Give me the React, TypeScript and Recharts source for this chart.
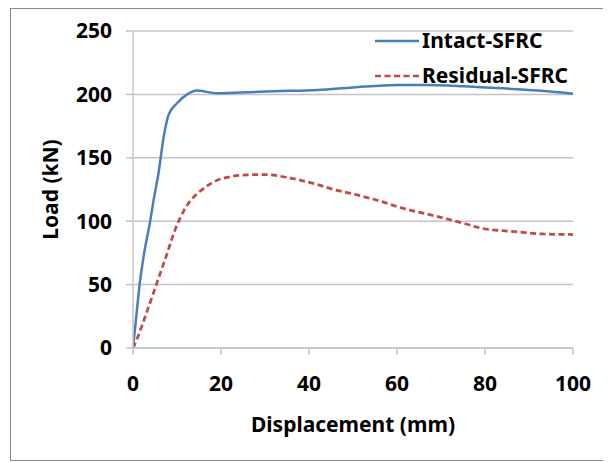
import { LineChart, Line, XAxis, YAxis, CartesianGrid, Legend } from 'recharts';

// Load-displacement curves
const intactDisp = [0, 0.75, 1.5, 2.4, 3.9, 4.7, 5.8, 7.0, 8.1, 10, 12.3, 14.5, 19, 24.4, 32, 42, 50, 60, 66, 75, 83, 92, 100];
const intactLoad = [0, 25, 50, 72, 100, 117, 138, 167, 184, 193, 200, 203, 201, 201.5, 202.5, 203.5, 205.5, 207.5, 207.5, 206.5, 205, 203, 200.5];

const residualDisp = [0, 0.9, 2.8, 5.3, 7.3, 10, 11.5, 13, 14.5, 16.5, 18.3, 22, 26, 30, 35.7, 41.8, 45.6, 49.4, 56, 61, 67.6, 75, 79, 86, 93, 100];
const residualLoad = [0, 7, 25, 50, 70, 97, 108, 116, 121.5, 127, 131, 135, 136.5, 136.8, 134, 129, 125, 122, 116, 110.5, 105, 98.5, 94.6, 92, 90, 89.5];

const xTicks = [0, 20, 40, 60, 80, 100];
const yTicks = [0, 50, 100, 150, 200, 250];

const intactData = intactDisp.map((d, i) => ({ disp: d, load: intactLoad[i] }));
const residualData = residualDisp.map((d, i) => ({ disp: d, load: residualLoad[i] }));

const FONT = '"Noto Sans", sans-serif';
const BLUE = '#4a7ebb';
const RED = '#be4b48';
const GRID = '#c4c4c4';
const DASH = '6 3.5';

function LegendBox() {
  const rows = [
    { name: 'Intact-SFRC', color: BLUE, dash: undefined },
    { name: 'Residual-SFRC', color: RED, dash: DASH },
  ];
  return (
    <div style={{ fontFamily: FONT, fontWeight: 700, fontSize: 21, color: '#000' }}>
      {rows.map((r) => (
        <div key={r.name} style={{ display: 'flex', alignItems: 'center', height: 35 }}>
          <svg width={45} height={6} style={{ marginRight: 2 }}>
            <line x1={0} y1={3} x2={44} y2={3} stroke={r.color} strokeWidth={2.5} strokeDasharray={r.dash} />
          </svg>
          <span style={{ lineHeight: '35px' }}>{r.name}</span>
        </div>
      ))}
    </div>
  );
}

export default function App() {
  // outer box is the grey frame; the chart is shifted back so it spans the whole 611x462 page
  return (
    <div
      style={{
        position: 'relative',
        marginLeft: 2,
        width: 599,
        height: 453,
        boxSizing: 'border-box',
        border: '1px solid #8a8a8a',
        background: '#fff',
      }}
    >
      <LineChart
        width={611}
        height={462}
        margin={{ top: 31, right: 38, bottom: 14, left: 0 }}
        style={{ position: 'absolute', left: -11, top: -9 }}
      >
        <CartesianGrid vertical={false} stroke={GRID} strokeWidth={1.5} />
        <XAxis
          type="number"
          dataKey="disp"
          domain={[0, 100]}
          ticks={xTicks}
          allowDataOverflow
          height={100}
          stroke={GRID}
          strokeWidth={1.5}
          tickSize={7}
          tickMargin={21}
          tick={{ fill: '#000', fontSize: 21, fontWeight: 700, fontFamily: FONT }}
          label={{
            value: 'Displacement (mm)',
            position: 'insideBottom',
            offset: 16,
            fill: '#000',
            fontSize: 21,
            fontWeight: 700,
            fontFamily: FONT,
          }}
        />
        <YAxis
          type="number"
          dataKey="load"
          domain={[0, 250]}
          ticks={yTicks}
          width={133}
          stroke={GRID}
          strokeWidth={1.5}
          tickSize={7}
          tickMargin={14}
          tick={{ fill: '#000', fontSize: 21, fontWeight: 700, fontFamily: FONT }}
          label={{
            value: 'Load (kN)',
            angle: -90,
            position: 'insideLeft',
            offset: 51,
            style: { textAnchor: 'middle' },
            fill: '#000',
            fontSize: 21,
            fontWeight: 700,
            fontFamily: FONT,
          }}
        />
        <Legend
          layout="vertical"
          align="center"
          verticalAlign="middle"
          wrapperStyle={{ left: 375, top: 23, width: 'auto' }}
          content={() => <LegendBox />}
        />
        <Line
          data={intactData}
          dataKey="load"
          name="Intact-SFRC"
          type="monotone"
          stroke={BLUE}
          strokeWidth={2.5}
          dot={false}
          isAnimationActive={false}
        />
        <Line
          data={residualData}
          dataKey="load"
          name="Residual-SFRC"
          type="monotone"
          stroke={RED}
          strokeWidth={2.75}
          strokeDasharray={DASH}
          dot={false}
          isAnimationActive={false}
        />
      </LineChart>
    </div>
  );
}
